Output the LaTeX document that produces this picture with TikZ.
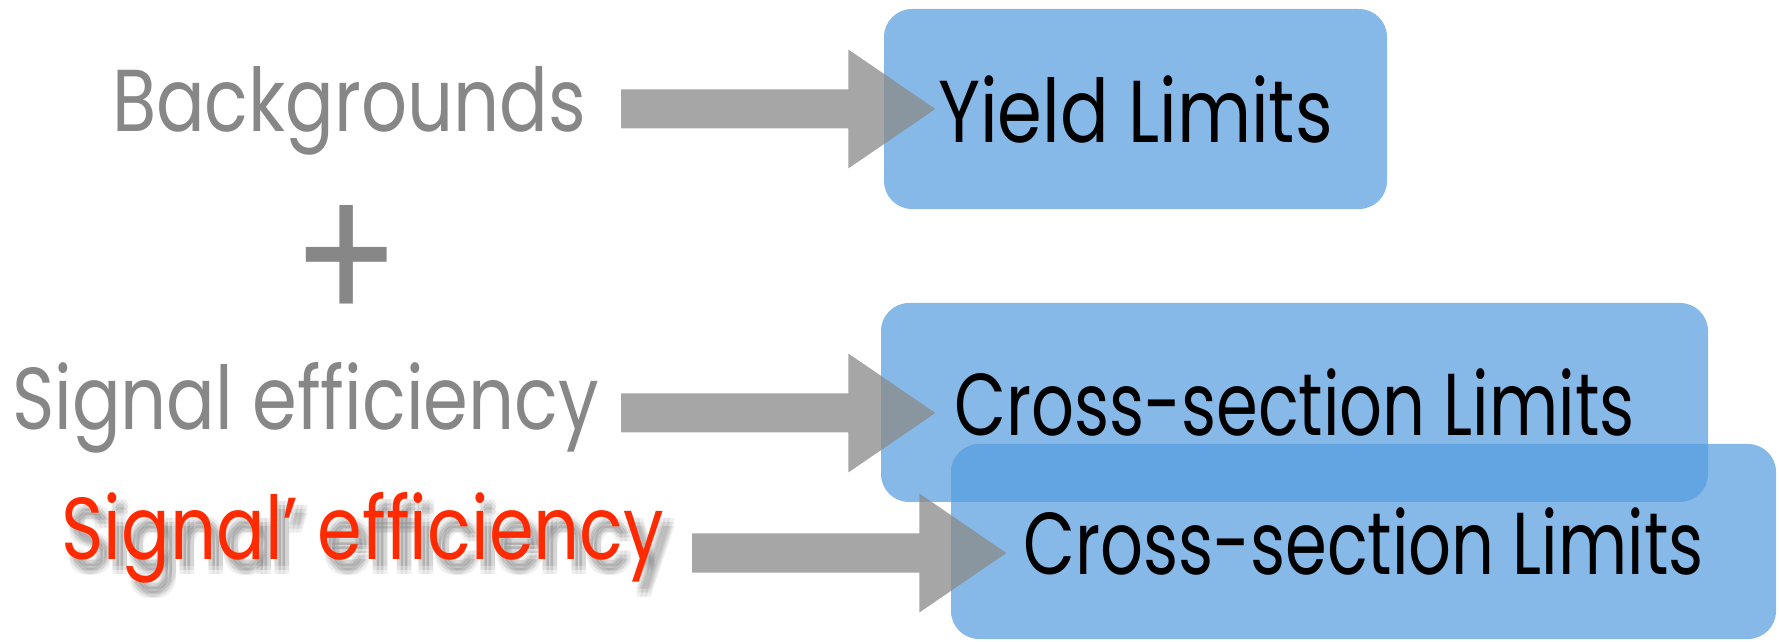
\documentclass[tikz,border=0pt]{standalone}
\usepackage{fontspec}
\setmainfont[FakeStretch=0.82]{Poppins}
\newfontfamily\xsecfont[FakeStretch=0.765]{Poppins}
\usepackage{xcolor}
\usetikzlibrary{positioning,calc}

\definecolor{txtgray}{RGB}{135,135,135}
\definecolor{arrowgray}{RGB}{139,139,139}
\definecolor{boxblue}{RGB}{84,157,223}
\definecolor{sigred}{RGB}{255,42,0}
\newcommand{\bigfont}{\fontsize{25}{30}\selectfont}

\tikzset{
    limitbox/.style={rounded corners=0.28cm, fill=boxblue, fill opacity=0.71, text opacity=1,
        text=black, font=\bigfont, inner sep=0pt},
    intext/.style={font=\bigfont, text=txtgray, inner sep=0pt, anchor=base},
    fatarrow/.style={fill=arrowgray, fill opacity=0.77,
        to path={++(0,0.195) -- ($(\tikztotarget)+(-0.87,0.195)$) -- ++(0,0.40)
            -- (\tikztotarget) -- ++(-0.87,-0.595) -- ++(0,0.40)
            -- ($(\tikztostart)+(0,-0.195)$) -- cycle}}
}

\begin{document}
\begin{tikzpicture}
        \useasboundingbox (0,0) rectangle (17.79,6.41);

        % Inputs
        \node[intext] (bkg) at (3.49, 5.09) {Backgrounds};
        \node[font=\fontsize{55}{60}\selectfont, text=txtgray, inner sep=0pt] (plus) at (3.47, 3.76) {+};
        \node[intext] (sig) at (3.055, 2.11) {Signal efficiency};
        % soft shadow under the red line
        \foreach \dx in {0.04,0.08,0.12}
            \foreach \dy in {-0.06,-0.10,-0.14}
                \node[intext, text=black, text opacity=0.06] at (3.63+\dx, 0.81+\dy) {Signal’ efficiency};
        \node[intext, text=sigred] (sigp) at (3.63, 0.81) {Signal’ efficiency};

        % Limits
        \node[limitbox, minimum width=5.03cm, minimum height=2.0cm] (yield) at (11.355, 5.32) {Yield Limits};
        \node[limitbox, minimum width=8.27cm, minimum height=1.99cm] (xsec) at (12.945, 2.385) {\xsecfont Cross-section Limits};
        \node[limitbox, minimum width=8.25cm, minimum height=1.95cm] (xsecp) at (13.635, 0.995) {\xsecfont Cross-section Limits};

        % Arrows
        \coordinate (s1) at (6.21, 5.32);
        \coordinate (s2) at (6.21, 2.28);
        \coordinate (s3) at (6.92, 0.88);
        \path[fatarrow] (s1) to ([xshift=0.52cm]yield.west);
        \path[fatarrow] (s2) to ([xshift=0.55cm, yshift=-0.105cm]xsec.west);
        \path[fatarrow] (s3) to ([xshift=0.56cm, yshift=-0.115cm]xsecp.west);
    \end{tikzpicture}
\end{document}
